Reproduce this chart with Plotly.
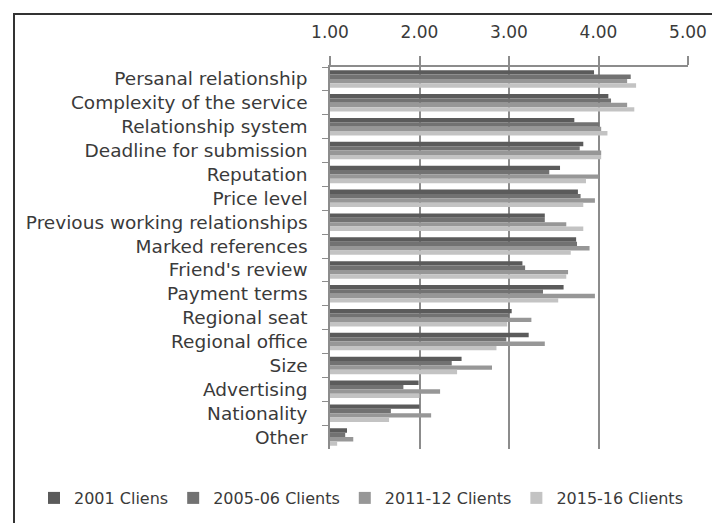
import plotly.graph_objects as go

categories = ["Persanal relationship", "Complexity of the service", "Relationship system",
              "Deadline for submission", "Reputation", "Price level",
              "Previous working relationships", "Marked references", "Friend's review",
              "Payment terms", "Regional seat", "Regional office", "Size", "Advertising",
              "Nationality", "Other"]

s2001 = [3.95, 4.11, 3.73, 3.83, 3.57, 3.77, 3.40, 3.75, 3.15, 3.61, 3.03, 3.22, 2.47, 1.99, 2.00, 1.19]
s2005 = [4.36, 4.14, 4.01, 3.79, 3.45, 3.80, 3.40, 3.76, 3.18, 3.38, 3.00, 2.97, 2.36, 1.82, 1.68, 1.17]
s2011 = [4.32, 4.32, 4.03, 4.03, 4.00, 3.96, 3.64, 3.90, 3.66, 3.96, 3.25, 3.40, 2.81, 2.23, 2.13, 1.26]
s2015 = [4.42, 4.40, 4.10, 4.03, 3.86, 3.83, 3.83, 3.69, 3.64, 3.55, 2.98, 2.86, 2.42, 2.00, 1.66, 1.08]

series_names = ["2001 Cliens", "2005-06 Clients", "2011-12 Clients", "2015-16 Clients"]
series_values = [s2001, s2005, s2011, s2015]
colors = ["#5b5b5b", "#727272", "#979797", "#c3c3c3"]

x_ticks = [1, 2, 3, 4, 5]
x_tick_labels = ["1.00", "2.00", "3.00", "4.00", "5.00"]

W, H = 720, 523
ML, MR, MT, MB = 322, 40, 59, 82

fig = go.Figure()
for name, vals, col in zip(series_names, series_values, colors):
    fig.add_trace(go.Bar(y=categories, x=vals, orientation="h", name=name,
                         marker=dict(color=col, line=dict(width=0))))

font_family = "DejaVu Sans"
text_color = "#3a3a3a"

pw = W - ML - MR
ph = H - MT - MB
def px_x(p):
    return (p - ML) / pw
def px_y(p):
    return (H - MB - p) / ph

n = len(categories)
fig.update_layout(
    width=W, height=H,
    margin=dict(l=ML, r=MR, t=MT, b=MB, autoexpand=False),
    paper_bgcolor="white", plot_bgcolor="white",
    barmode="group", bargap=0.27, bargroupgap=0,
    font=dict(family=font_family, color=text_color, size=16),
    xaxis=dict(side="top", range=[1, 5], tickvals=x_ticks, ticktext=x_tick_labels,
               showgrid=True, gridcolor="#8c8c8c", gridwidth=1.5,
               showline=True, linecolor="#8c8c8c", linewidth=1.5,
               ticks="outside", ticklen=9, tickcolor="#8c8c8c", tickwidth=1.5,
               ticklabelstandoff=11, automargin=False,
               tickfont=dict(size=17, color=text_color), zeroline=False, fixedrange=True),
    yaxis=dict(range=[n - 0.5, -0.5], type="category", showline=True,
               linecolor="#8c8c8c", linewidth=1.5, ticks="outside", ticklen=6,
               tickcolor="#8c8c8c", tickwidth=1.2, tickson="boundaries",
               ticklabelstandoff=17, automargin=False,
               tickfont=dict(size=18.5, color=text_color), showgrid=False, fixedrange=True),
    legend=dict(orientation="h", x=px_x(26), xanchor="left", y=px_y(490), yanchor="middle",
                font=dict(size=16, color=text_color), traceorder="normal",
                itemwidth=30, bgcolor="rgba(0,0,0,0)"),
    shapes=[dict(type="rect", xref="paper", yref="paper",
                 x0=px_x(6), x1=px_x(730), y0=px_y(535), y1=px_y(6),
                 line=dict(color="#333333", width=2), layer="above")],
)

fig.write_html("out.html")
